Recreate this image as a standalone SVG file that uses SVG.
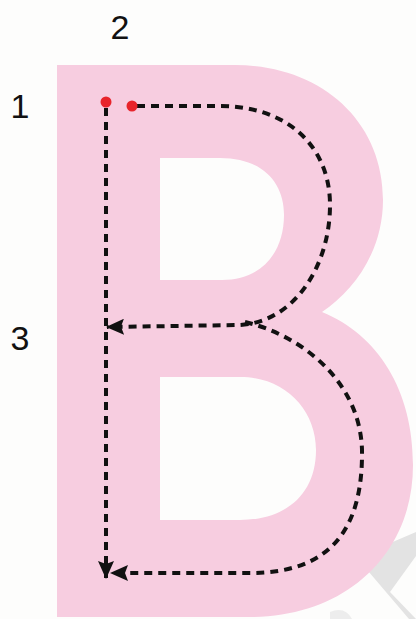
<svg xmlns="http://www.w3.org/2000/svg" width="416" height="619" viewBox="0 0 416 619">
  <style>
    .lbl { font-family: "Liberation Sans", Arial, sans-serif; font-size: 34px; fill: #111; text-anchor: middle; }
    .dash { fill: none; stroke: #111; stroke-width: 4; stroke-dasharray: 8 6; }
    .dot { fill: #e8242b; }
  </style>
  <defs>
    <marker id="arr" viewBox="0 0 18 16" refX="17" refY="8" markerWidth="18" markerHeight="16" markerUnits="userSpaceOnUse" orient="auto">
      <path d="M0,0 L18,8 L0,16 L3,8 Z" fill="#111"/>
    </marker>
  </defs>
  <rect width="416" height="619" fill="#fdfdfc"/>
  <g id="watermark" fill="#e3e3e3">
    <path d="M363,565 L381,547 L416,532 L416,556 L390,592 L416,619 L409,619 Z"/>
    <path d="M330,612 Q345,606 352,619 L330,619 Z" opacity="0.6"/>
  </g>
  <g id="letter-B">
    <path fill="#f7cde0" fill-rule="evenodd" d="M57,65 H235 C320,65 383,120 383,200 C383,250 355,290 322,312 C378,335 413,390 413,465 C413,555 345,617 250,617 H57 Z M160,158 H220 C262,158 284,182 284,215 C284,252 262,280 222,280 H160 Z M160,377 H240 C285,377 316,410 316,450 C316,495 285,520 240,520 H160 Z"/>
  </g>
  <g id="connectors">
    <path class="dash" d="M106,108 V578" marker-end="url(#arr)"/>
    <path class="dash" d="M137,106 H220 C288,106 330,147 330,205 C330,265 295,322 240,325 L107,327" marker-end="url(#arr)"/>
    <path class="dash" d="M245,322 C300,335 360,380 362,450 C363,530 330,573 250,573 H111" marker-end="url(#arr)"/>
  </g>
  <g id="start-dots">
    <circle class="dot" cx="106" cy="102" r="5.5"/>
    <circle class="dot" cx="132" cy="106" r="5.5"/>
  </g>
  <g id="labels">
    <text class="lbl" x="20" y="118">1</text>
    <text class="lbl" x="120" y="39">2</text>
    <text class="lbl" x="20" y="350">3</text>
  </g>
</svg>
